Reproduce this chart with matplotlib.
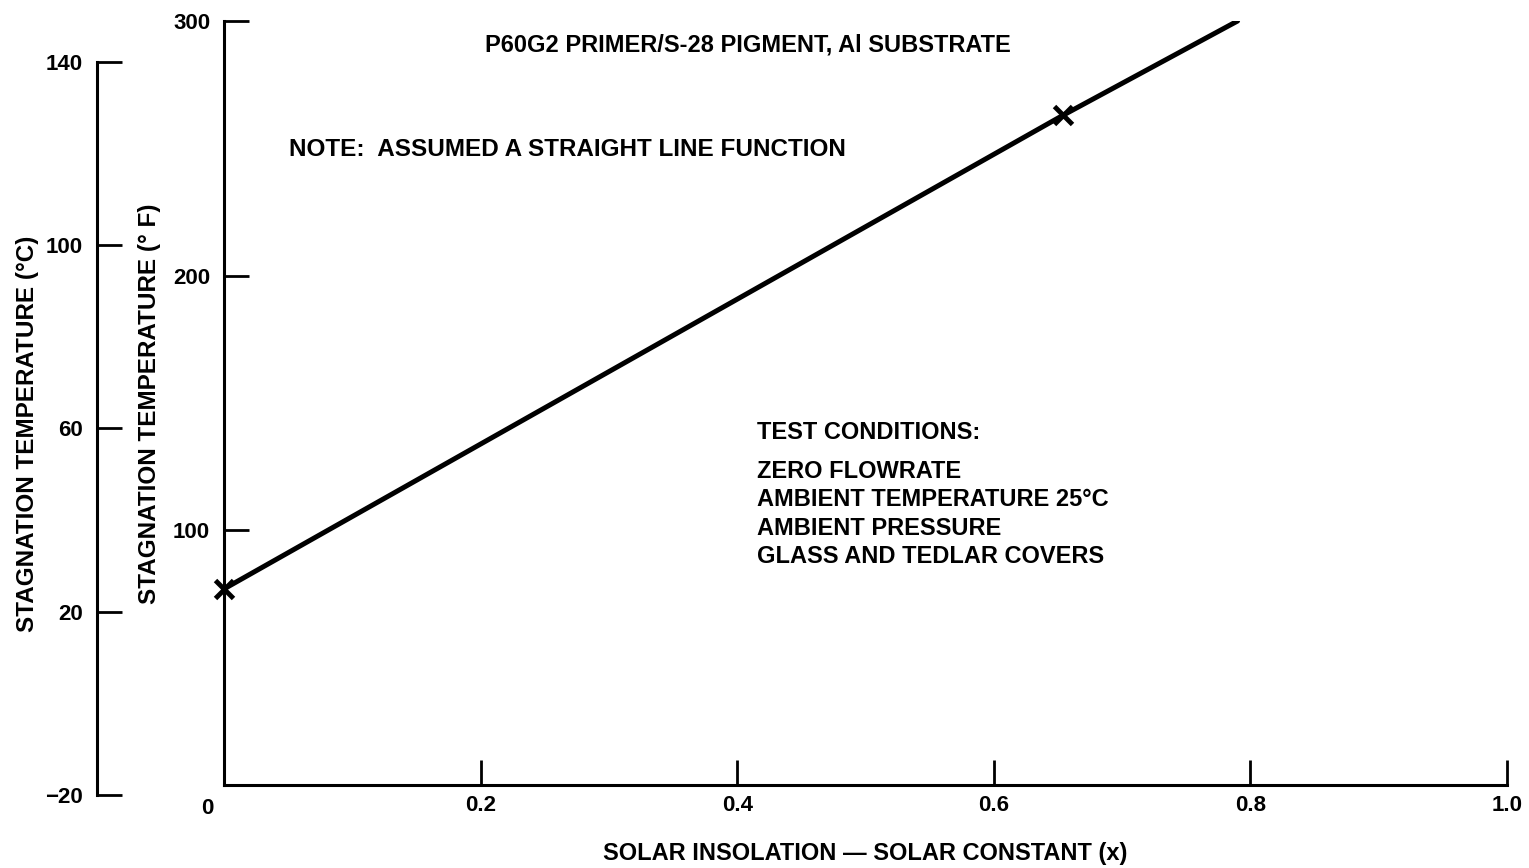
import matplotlib.pyplot as plt
import numpy as np

# data
insolation = [0.0, 0.654, 0.79]          # solar constant (x)
temp_f = [77, 263, 300]                  # stagnation temperature (F)
marker_x = [0.0, 0.654]
marker_f = [77, 263]

x_ticks = [0.2, 0.4, 0.6, 0.8, 1.0]
x_ticklabels = ['0.2', '0.4', '0.6', '0.8', '1.0']
f_ticks = [100, 200, 300]
c_ticks = [-20, 20, 60, 100, 140]

conditions = ['ZERO FLOWRATE', 'AMBIENT TEMPERATURE 25\u00b0C',
              'AMBIENT PRESSURE', 'GLASS AND TEDLAR COVERS']

plt.rcParams['font.family'] = ['Liberation Sans', 'DejaVu Sans']
plt.rcParams['font.weight'] = 'bold'
plt.rcParams['axes.labelweight'] = 'bold'


def c_to_f(c):
    return c * 1.8 + 32


fig = plt.figure(figsize=(15.29, 8.68), dpi=100)
left, bottom, width, height = 0.1465, 0.0956, 0.8391, 0.8802
ax = fig.add_axes([left, bottom, width, height])
ax.set_xlim(0, 1.0)
ax.set_ylim(0, 300)

for s in ['top', 'right']:
    ax.spines[s].set_visible(False)
for s in ['left', 'bottom']:
    ax.spines[s].set_linewidth(2.2)

ax.plot(insolation, temp_f, color='black', lw=3.6, solid_capstyle='round')
ax.plot(marker_x, marker_f, ls='none', marker='x', ms=13, mew=3.5,
        color='black', clip_on=False)

ax.set_xticks(x_ticks)
ax.set_xticklabels(x_ticklabels)
ax.set_yticks(f_ticks)
ax.tick_params(direction='in', length=18, width=2, labelsize=16, pad=7)
ax.tick_params(axis='y', pad=10)
ax.text(-0.013, -5, '0', ha='center', va='top', fontsize=16)

# celsius axis
f_lo = c_to_f(c_ticks[0]) / 300
f_hi = c_to_f(c_ticks[-1]) / 300
axc = fig.add_axes([0.0634, bottom + height * f_lo, 0.001, height * (f_hi - f_lo)])
axc.set_ylim(c_ticks[0], c_ticks[-1])
axc.patch.set_visible(False)
for s in ['top', 'right', 'bottom']:
    axc.spines[s].set_visible(False)
axc.spines['left'].set_linewidth(2.2)
axc.set_xticks([])
axc.set_yticks(c_ticks)
axc.set_yticklabels(['\u221220', '20', '60', '100', '140'])
axc.tick_params(axis='y', direction='in', length=18, width=2, labelsize=16, pad=10)

fig.text(0.0981, 0.535, 'STAGNATION TEMPERATURE (\u00b0 F)', rotation=90,
         ha='center', va='center', fontsize=17.5)
fig.text(0.0183, 0.5, 'STAGNATION TEMPERATURE (\u00b0C)', rotation=90,
         ha='center', va='center', fontsize=17.5)
ax.set_xlabel('SOLAR INSOLATION \u2014 SOLAR CONSTANT (x)', fontsize=17, labelpad=19)

ax.text(0.408, 290.5, 'P60G2 PRIMER/S-28 PIGMENT, Al SUBSTRATE',
        ha='center', va='center', fontsize=17)
ax.text(0.0507, 249.7, 'NOTE:  ASSUMED A STRAIGHT LINE FUNCTION',
        ha='left', va='center', fontsize=17.5)
ax.text(0.4154, 138.6, 'TEST CONDITIONS:', ha='left', va='center', fontsize=17)
ax.text(0.4154, 127.6, '\n'.join(conditions), ha='left', va='top',
        fontsize=17, linespacing=1.3)

fig.savefig('out.png', dpi=100)
